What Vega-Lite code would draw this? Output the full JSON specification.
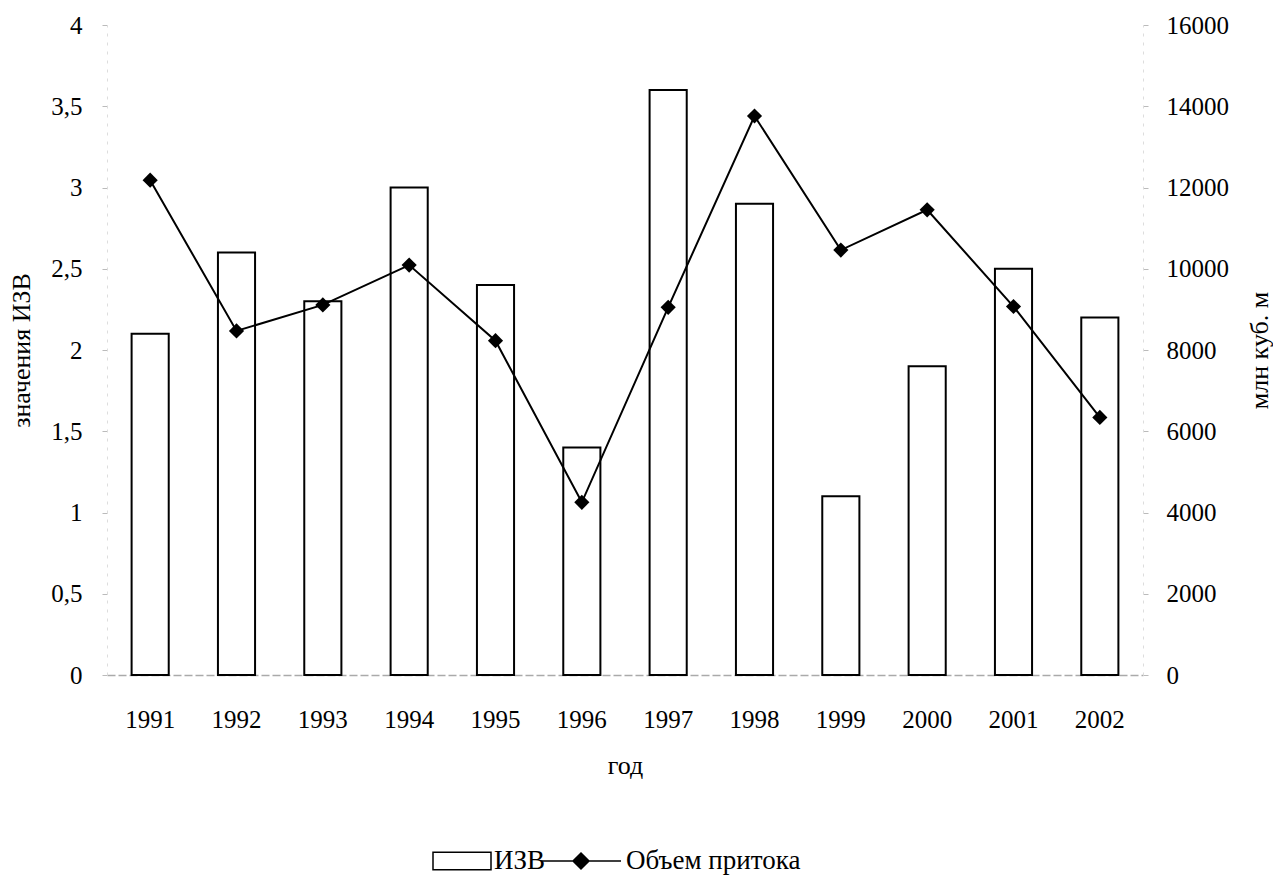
{
  "$schema": "https://vega.github.io/schema/vega-lite/v6.json",
  "autosize": {"type": "none"},
  "width": 1036,
  "height": 650,
  "padding": {"left": 107, "top": 25, "right": 130, "bottom": 208},
  "background": "white",
  "config": {
    "font": "Liberation Serif",
    "view": {"stroke": null},
    "axis": {"labelFont": "Liberation Serif", "titleFont": "Liberation Serif", "labelColor": "black", "titleColor": "black", "titleFontWeight": "normal", "labelFontSize": 25, "titleFontSize": 26, "grid": false},
    "legend": {"labelFont": "Liberation Serif", "labelFontSize": 27, "labelColor": "black", "labelLimit": 400}
  },
  "data": {
    "values": [
      {"year": "1991", "izv": 2.1, "flow": 12180},
      {"year": "1992", "izv": 2.6, "flow": 8470},
      {"year": "1993", "izv": 2.3, "flow": 9110},
      {"year": "1994", "izv": 3.0, "flow": 10090},
      {"year": "1995", "izv": 2.4, "flow": 8230},
      {"year": "1996", "izv": 1.4, "flow": 4250},
      {"year": "1997", "izv": 3.6, "flow": 9050},
      {"year": "1998", "izv": 2.9, "flow": 13760},
      {"year": "1999", "izv": 1.1, "flow": 10460},
      {"year": "2000", "izv": 1.9, "flow": 11450},
      {"year": "2001", "izv": 2.5, "flow": 9070},
      {"year": "2002", "izv": 2.2, "flow": 6340}
    ]
  },
  "encoding": {
    "x": {
      "field": "year", "type": "ordinal",
      "scale": {"paddingInner": 0.57, "paddingOuter": 0.285},
      "axis": {"title": "год", "labelAngle": 0, "ticks": false, "labelPadding": 32, "titlePadding": 20, "domainColor": "#aaaaaa", "domainDash": [8, 3], "domainWidth": 1.5}
    }
  },
  "layer": [
    {
      "mark": {"type": "bar", "stroke": "black", "strokeWidth": 2},
      "encoding": {
        "y": {
          "field": "izv", "type": "quantitative",
          "scale": {"domain": [0, 4], "nice": false},
          "axis": {"title": "значения ИЗВ", "values": [0, 0.5, 1, 1.5, 2, 2.5, 3, 3.5, 4], "labelExpr": "replace(format(datum.value, '~g'), '.', ',')", "tickSize": 5, "tickColor": "#bbbbbb", "labelPadding": 20, "domainColor": "#dddddd", "domainDash": [3, 6], "titlePadding": 16}
        },
        "fill": {
          "datum": "ИЗВ",
          "scale": {"range": ["white"]},
          "legend": {
            "title": null, "orient": "none", "legendX": 325, "legendY": 806,
            "symbolType": "M-1,-0.3H1V0.3H-1Z", "symbolSize": 3364, "symbolStrokeColor": "black", "symbolStrokeWidth": 1.5, "labelOffset": 2,
            "encode": {"symbols": {"update": {"stroke": {"value": "black"}, "strokeWidth": {"value": 1.5}, "fill": {"value": "white"}}}}
          }
        }
      }
    },
    {
      "mark": {"type": "line", "strokeWidth": 2},
      "encoding": {
        "y": {
          "field": "flow", "type": "quantitative",
          "scale": {"domain": [0, 16000], "nice": false},
          "axis": {"orient": "right", "title": "млн  куб. м", "titleAngle": 270, "values": [0, 2000, 4000, 6000, 8000, 10000, 12000, 14000, 16000], "format": "d", "tickSize": 5, "tickColor": "#bbbbbb", "labelPadding": 18, "domainColor": "#dddddd", "domainDash": [3, 6], "titlePadding": 44}
        },
        "stroke": {
          "datum": "Объем притока",
          "scale": {"range": ["black"]},
          "legend": {
            "title": null, "orient": "none", "legendX": 433, "legendY": 795,
            "symbolType": "M-1,0H1M0,-0.2L0.2,0L0,0.2L-0.2,0Z", "symbolSize": 6400, "symbolStrokeWidth": 1.5, "labelOffset": 4,
            "encode": {"symbols": {"update": {"stroke": {"value": "black"}, "fill": {"value": "black"}, "strokeWidth": {"value": 1.5}}}}
          }
        }
      }
    },
    {
      "mark": {"type": "point", "shape": "diamond", "filled": true, "color": "black", "size": 230, "opacity": 1},
      "encoding": {
        "y": {"field": "flow", "type": "quantitative", "scale": {"domain": [0, 16000], "nice": false}, "axis": null}
      }
    }
  ],
  "resolve": {"scale": {"y": "independent"}}
}
